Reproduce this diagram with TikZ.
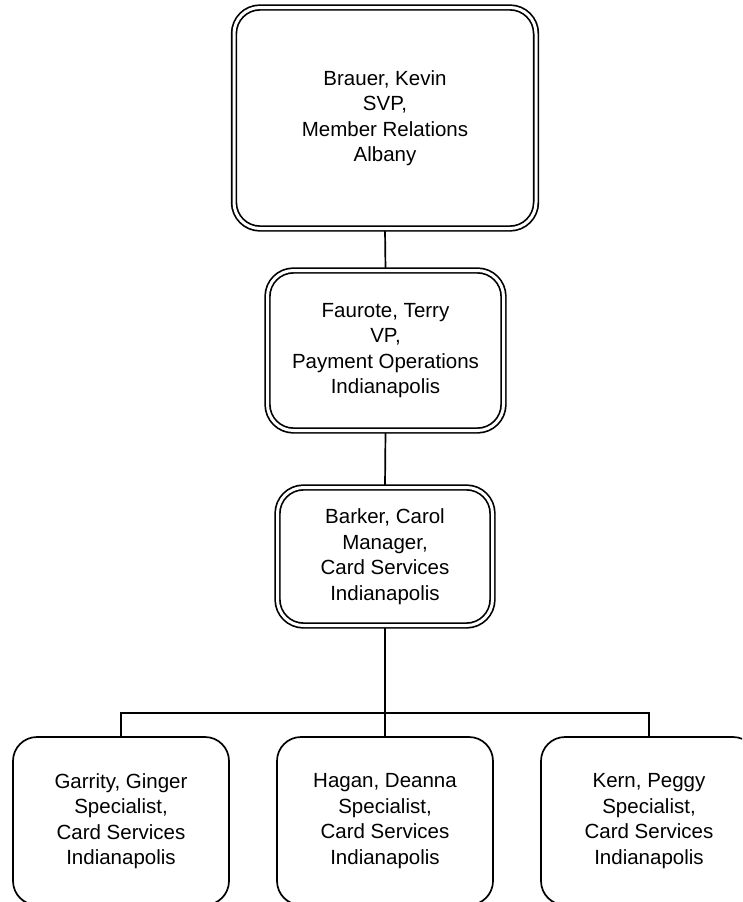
\documentclass[tikz,border=0pt]{standalone}
\usepackage{fontspec}
\setmainfont{Liberation Sans}
\usetikzlibrary{backgrounds}
\begin{document}
\begin{tikzpicture}[x=1pt,y=-1pt,
  every node/.style={font=\fontsize{20.5}{25.5}\selectfont, align=center, inner sep=0pt},
  dbox/.style={draw, line width=1.7pt, double=white, double distance=3pt, rounded corners=26pt, fill=white},
  sbox/.style={draw, line width=1.7pt, rounded corners=24pt, fill=white, minimum width=216pt, minimum height=168pt},
  conn/.style={line width=1.7pt}]
\useasboundingbox (0,0) rectangle (742,902);
\clip (0,0) rectangle (742,902);
\node[dbox, minimum width=302pt, minimum height=221pt] (top) at (385,118)
  {Brauer, Kevin\\SVP,\\Member Relations\\Albany};
\node[dbox, minimum width=236pt, minimum height=160pt] (mid) at (385.5,350.5)
  {Faurote, Terry\\VP,\\Payment Operations\\Indianapolis};
\node[dbox, minimum width=215pt, minimum height=138pt] (mgr) at (385,556.5)
  {Barker, Carol\\Manager,\\Card Services\\Indianapolis};
\node[sbox] (b1) at (121,821) {Garrity, Ginger\\Specialist,\\Card Services\\Indianapolis};
\node[sbox] (b2) at (385,821) {Hagan, Deanna\\Specialist,\\Card Services\\Indianapolis};
\node[sbox] (b3) at (649,821) {Kern, Peggy\\Specialist,\\Card Services\\Indianapolis};
\coordinate (bus) at (385,713);
\begin{pgfonlayer}{background}
\draw[conn] (top.south) -- (mid.north);
\draw[conn] (mid.south) -- (mgr.north);
\draw[conn] (mgr.south) -- (bus);
\draw[conn] (b1.north) |- (bus) -| (b3.north);
\draw[conn] (b2.north) -- (bus);
\end{pgfonlayer}
\end{tikzpicture}
\end{document}
